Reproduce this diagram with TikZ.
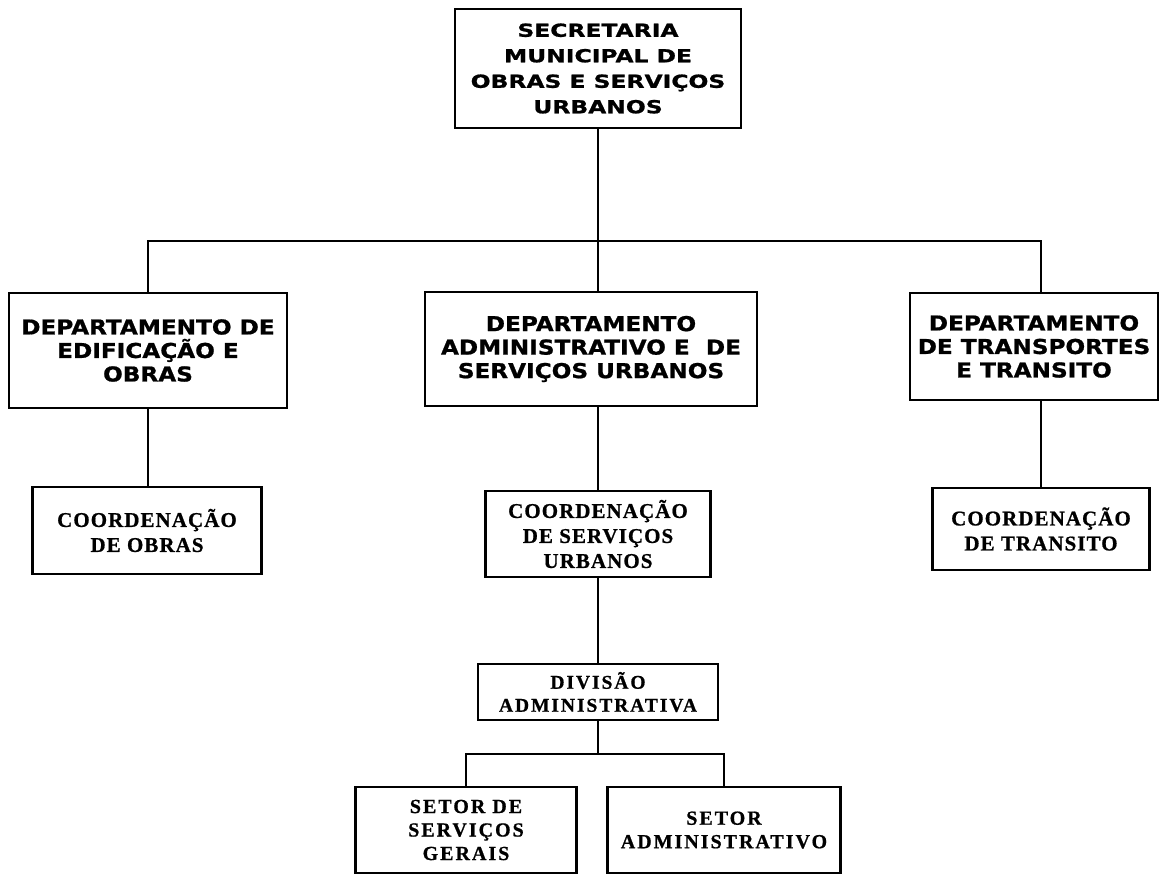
\documentclass[tikz,border=0pt]{standalone}
\usepackage{fontspec}
\usetikzlibrary{calc, positioning}
\setmainfont{Liberation Serif}
\newfontfamily\secfont{DejaVu Sans}[FakeStretch=1.3, BoldFeatures={FakeBold=1}]
\newfontfamily\depfont{DejaVu Sans}[FakeStretch=1.13, BoldFeatures={FakeBold=1}]
\newfontfamily\coordfont{Liberation Serif}[LetterSpace=5, BoldFeatures={FakeBold=0.8}]
\newfontfamily\setorfont{Liberation Serif}[LetterSpace=10, BoldFeatures={FakeBold=0.8}]

\begin{document}
\begin{tikzpicture}[
    x=1pt, y=-1pt,
    % box styles
    box/.style={draw=black, line width=2.2pt, align=center, inner sep=0pt},
    headbox/.style={box, font=\secfont\bfseries\fontsize{18}{25.5}\selectfont},
    deptbox/.style={box, font=\depfont\bfseries\fontsize{20.5}{23.5}\selectfont},
    coordbox/.style={box, font=\coordfont\bfseries\fontsize{21}{25}\selectfont},
    divbox/.style={box, font=\setorfont\bfseries\fontsize{19.5}{23}\selectfont},
    setorbox/.style={box, font=\setorfont\bfseries\fontsize{20}{23.5}\selectfont},
    link/.style={line width=2.2pt, black}
]
    \useasboundingbox (0,0) rectangle (1161,873);

    % ==========================================
    % SECRETARIA
    % ==========================================
    \node[headbox, minimum width=286, minimum height=119] (sec) at (598,68.5)
        {SECRETARIA\\MUNICIPAL DE\\OBRAS E SERVIÇOS\\URBANOS};
    \coordinate (hub) at (598,241);

    % ==========================================
    % DEPARTAMENTOS
    % ==========================================
    \node[deptbox, minimum width=278, minimum height=115] (dep1) at (148,350.5)
        {DEPARTAMENTO DE\\EDIFICAÇÃO E\\OBRAS};
    \node[deptbox, minimum width=332, minimum height=114] (dep2) at (591,349)
        {DEPARTAMENTO\\ADMINISTRATIVO E \ DE\\SERVIÇOS URBANOS};
    \node[deptbox, minimum width=248, minimum height=107] (dep3) at (1034,346.5)
        {DEPARTAMENTO\\DE TRANSPORTES\\E TRANSITO};

    \draw[link] (sec.south) -- (hub);
    \draw[link] (dep1.north) |- (hub) -| ([xshift=7pt]dep3.north);
    \draw[link] (hub) -- (hub |- dep2.north);

    % ==========================================
    % COORDENACOES
    % ==========================================
    \node[coordbox, minimum width=229, minimum height=87] (co1) at (147,530.5)
        {COORDENAÇÃO\\DE OBRAS};
    \node[coordbox, minimum width=225, minimum height=86] (co2) at (598,534)
        {COORDENAÇÃO\\DE SERVIÇOS\\URBANOS};
    \node[coordbox, minimum width=217, minimum height=82] (co3) at (1041,529)
        {COORDENAÇÃO\\DE TRANSITO};

    \draw[link] (dep1.south) -- (dep1.south |- co1.north);
    \draw[link] (co2.north |- dep2.south) -- (co2.north);
    \draw[link] ([xshift=7pt]dep3.south) -- (co3.north);

    % ==========================================
    % DIVISAO E SETORES
    % ==========================================
    \node[divbox, minimum width=240, minimum height=56] (div) at (598,692)
        {DIVISÃO\\ADMINISTRATIVA};
    \node[setorbox, minimum width=221, minimum height=86] (s1) at (466,830)
        {SETOR DE\\SERVIÇOS\\GERAIS};
    \node[setorbox, minimum width=233, minimum height=86] (s2) at (724,830)
        {SETOR\\ADMINISTRATIVO};

    \draw[link] (co2.south) -- (div.north);
    \draw[link] (div.south) -- ++(0,33) coordinate (fork);
    \draw[link] (s1.north) |- (fork) -| (s2.north);

\end{tikzpicture}
\end{document}
